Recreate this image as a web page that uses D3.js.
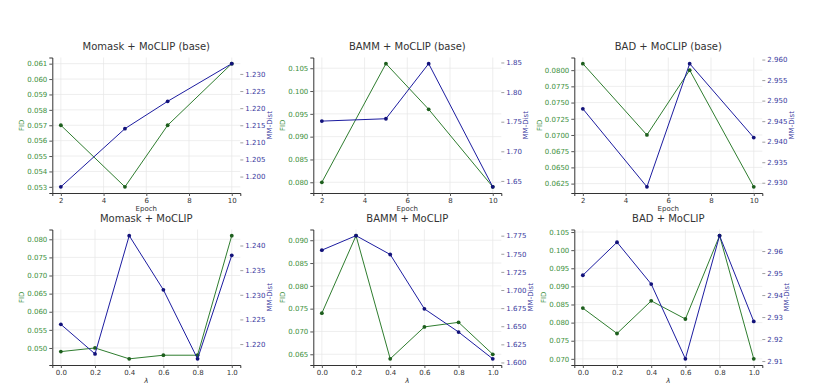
<!DOCTYPE html>
<html>
<head>
<meta charset="utf-8">
<script src="https://cdn.jsdelivr.net/npm/d3@7"></script>
<style>
  body { margin: 0; background: #fff; }
  svg { font-family: "DejaVu Sans", sans-serif; }
</style>
</head>
<body>
<svg id="chart" width="822" height="388"></svg>
<script>
// x values
const epochs = [2, 5, 7, 10];
const lambdas = [0.0, 0.2, 0.4, 0.6, 0.8, 1.0];

// top row: epochs
const momaskBaseFid = [0.057, 0.053, 0.057, 0.061];
const momaskBaseMm = [1.197, 1.214, 1.222, 1.233];
const bammBaseFid = [0.080, 0.106, 0.096, 0.079];
const bammBaseMm = [1.751, 1.755, 1.848, 1.640];
const badBaseFid = [0.081, 0.070, 0.080, 0.062];
const badBaseMm = [2.948, 2.929, 2.959, 2.941];

// bottom row: lambda
const momaskFid = [0.049, 0.050, 0.047, 0.048, 0.048, 0.081];
const momaskMm = [1.224, 1.218, 1.242, 1.231, 1.217, 1.238];
const bammFid = [0.074, 0.091, 0.064, 0.071, 0.072, 0.065];
const bammMm = [1.755, 1.775, 1.749, 1.674, 1.642, 1.605];
const badFid = [0.084, 0.077, 0.086, 0.081, 0.104, 0.070];
const badMm = [2.949, 2.964, 2.945, 2.911, 2.967, 2.928];

// tick labels
const epochTicks = [2, 4, 6, 8, 10];
const lambdaTicks = [0.0, 0.2, 0.4, 0.6, 0.8, 1.0];
const momaskBaseFidTicks = [0.053, 0.054, 0.055, 0.056, 0.057, 0.058, 0.059, 0.060, 0.061];
const momaskBaseMmTicks = [1.200, 1.205, 1.210, 1.215, 1.220, 1.225, 1.230];
const bammBaseFidTicks = [0.080, 0.085, 0.090, 0.095, 0.100, 0.105];
const bammBaseMmTicks = [1.65, 1.70, 1.75, 1.80, 1.85];
const badBaseFidTicks = [0.0625, 0.0650, 0.0675, 0.0700, 0.0725, 0.0750, 0.0775, 0.0800];
const badBaseMmTicks = [2.930, 2.935, 2.940, 2.945, 2.950, 2.955, 2.960];
const momaskFidTicks = [0.050, 0.055, 0.060, 0.065, 0.070, 0.075, 0.080];
const momaskMmTicks = [1.220, 1.225, 1.230, 1.235, 1.240];
const bammFidTicks = [0.065, 0.070, 0.075, 0.080, 0.085, 0.090];
const bammMmTicks = [1.600, 1.625, 1.650, 1.675, 1.700, 1.725, 1.750, 1.775];
const badFidTicks = [0.070, 0.075, 0.080, 0.085, 0.090, 0.095, 0.100, 0.105];
const badMmTicks = [2.91, 2.92, 2.93, 2.94, 2.95, 2.96];

const panels = [
  { title: "Momask + MoCLIP (base)", x: epochs, fid: momaskBaseFid, mm: momaskBaseMm, xt: epochTicks, ft: momaskBaseFidTicks, fd: 3, mt: momaskBaseMmTicks, md: 3, xlab: "Epoch" },
  { title: "BAMM + MoCLIP (base)", x: epochs, fid: bammBaseFid, mm: bammBaseMm, xt: epochTicks, ft: bammBaseFidTicks, fd: 3, mt: bammBaseMmTicks, md: 2, xlab: "Epoch" },
  { title: "BAD + MoCLIP (base)", x: epochs, fid: badBaseFid, mm: badBaseMm, xt: epochTicks, ft: badBaseFidTicks, fd: 4, mt: badBaseMmTicks, md: 3, xlab: "Epoch" },
  { title: "Momask + MoCLIP", x: lambdas, fid: momaskFid, mm: momaskMm, xt: lambdaTicks, ft: momaskFidTicks, fd: 3, mt: momaskMmTicks, md: 3, xlab: "λ" },
  { title: "BAMM + MoCLIP", x: lambdas, fid: bammFid, mm: bammMm, xt: lambdaTicks, ft: bammFidTicks, fd: 3, mt: bammMmTicks, md: 3, xlab: "λ" },
  { title: "BAD + MoCLIP", x: lambdas, fid: badFid, mm: badMm, xt: lambdaTicks, ft: badFidTicks, fd: 3, mt: badMmTicks, md: 2, xlab: "λ" }
];

const svg = d3.select("#chart");
const colLeft = [52.3, 313.3, 574.3],
    rowTop = [57.5, 229.5],
    w = 188,
    h = 135.5;

const green = "#2f7d2f", greenText = "#3d8f3d",
    blue = "#1c1ca0", blueText = "#3a3a9e",
    spine = "#333", grid = "#e6e6e6";

// matplotlib style 5% padding
function padded(vals) {
  const [a, b] = d3.extent(vals);
  const m = (b - a) * 0.05;
  return [a - m, b + m];
}

panels.forEach(function (p, i) {
  const g = svg.append("g")
      .attr("transform", "translate(" + colLeft[i % 3] + "," + rowTop[Math.floor(i / 3)] + ")");

  const x = d3.scaleLinear().domain(padded(p.x)).range([0, w]);
  const yF = d3.scaleLinear().domain(padded(p.fid)).range([h, 0]);
  const yM = d3.scaleLinear().domain(padded(p.mm)).range([h, 0]);

  // grid
  g.selectAll(".gx").data(p.xt).enter().append("line")
      .attr("x1", d => x(d)).attr("x2", d => x(d))
      .attr("y1", 0).attr("y2", h)
      .style("stroke", grid).style("stroke-width", 0.7);
  g.selectAll(".gy").data(p.ft).enter().append("line")
      .attr("x1", 0).attr("x2", w)
      .attr("y1", d => yF(d)).attr("y2", d => yF(d))
      .style("stroke", grid).style("stroke-width", 0.7);

  // axes
  const xAxis = g.append("g").attr("transform", "translate(0," + h + ")")
      .call(d3.axisBottom(x).tickValues(p.xt).tickSize(3).tickPadding(2)
          .tickFormat(i < 3 ? d3.format("d") : d3.format(".1f")));
  const fAxis = g.append("g")
      .call(d3.axisLeft(yF).tickValues(p.ft).tickSize(3).tickPadding(2)
          .tickFormat(d3.format("." + p.fd + "f")));
  const mAxis = g.append("g").attr("transform", "translate(" + w + ",0)")
      .call(d3.axisRight(yM).tickValues(p.mt).tickSize(3).tickPadding(2)
          .tickFormat(d3.format("." + p.md + "f")));

  [xAxis, fAxis, mAxis].forEach(a => a.selectAll("text").style("font-size", "7px").style("font-family", "DejaVu Sans"));
  xAxis.select(".domain").style("stroke", spine).style("stroke-width", 1);
  xAxis.selectAll(".tick line").style("stroke", "#555");
  xAxis.selectAll("text").style("fill", "#333");
  fAxis.select(".domain").style("stroke", spine).style("stroke-width", 1);
  fAxis.selectAll(".tick line").style("stroke", "#555");
  fAxis.selectAll("text").style("fill", greenText);
  mAxis.select(".domain").style("stroke", "none");
  mAxis.selectAll(".tick line").style("stroke", "#777").style("stroke-width", 0.7);
  mAxis.selectAll("text").style("fill", blueText);

  // lines
  const fidLine = d3.line().x((d, j) => x(p.x[j])).y(d => yF(d));
  const mmLine = d3.line().x((d, j) => x(p.x[j])).y(d => yM(d));

  g.append("path").datum(p.fid).attr("d", fidLine)
      .style("fill", "none").style("stroke", green).style("stroke-width", 1);
  g.selectAll(".pf").data(p.fid).enter().append("circle")
      .attr("cx", (d, j) => x(p.x[j])).attr("cy", d => yF(d)).attr("r", 1.9)
      .style("fill", "#1d5e1d");

  g.append("path").datum(p.mm).attr("d", mmLine)
      .style("fill", "none").style("stroke", blue).style("stroke-width", 1);
  g.selectAll(".pm").data(p.mm).enter().append("circle")
      .attr("cx", (d, j) => x(p.x[j])).attr("cy", d => yM(d)).attr("r", 1.9)
      .style("fill", "#12127a");

  // labels
  g.append("text").attr("x", w / 2).attr("y", -7.5)
      .attr("text-anchor", "middle").style("font-size", "10px").style("fill", "#333")
      .text(p.title);
  g.append("text").attr("x", w / 2).attr("y", h + 18)
      .attr("text-anchor", "middle").style("font-size", "7px").style("fill", "#333")
      .style("font-style", i < 3 ? "normal" : "italic")
      .text(p.xlab);
  const fw = d3.max(fAxis.selectAll("text").nodes(), n => n.getComputedTextLength());
  g.append("text")
      .attr("transform", "translate(" + (-fw - 8) + "," + (h / 2) + ") rotate(-90)")
      .attr("text-anchor", "middle").style("font-size", "7px").style("fill", greenText)
      .text("FID");
  const mw = d3.max(mAxis.selectAll("text").nodes(), n => n.getComputedTextLength());
  g.append("text")
      .attr("transform", "translate(" + (w + mw + 9) + "," + (h / 2) + ") rotate(-90)")
      .attr("text-anchor", "middle").attr("dy", "0.35em").style("font-size", "7px").style("fill", blueText)
      .text("MM-Dist");
});
</script>
</body>
</html>
